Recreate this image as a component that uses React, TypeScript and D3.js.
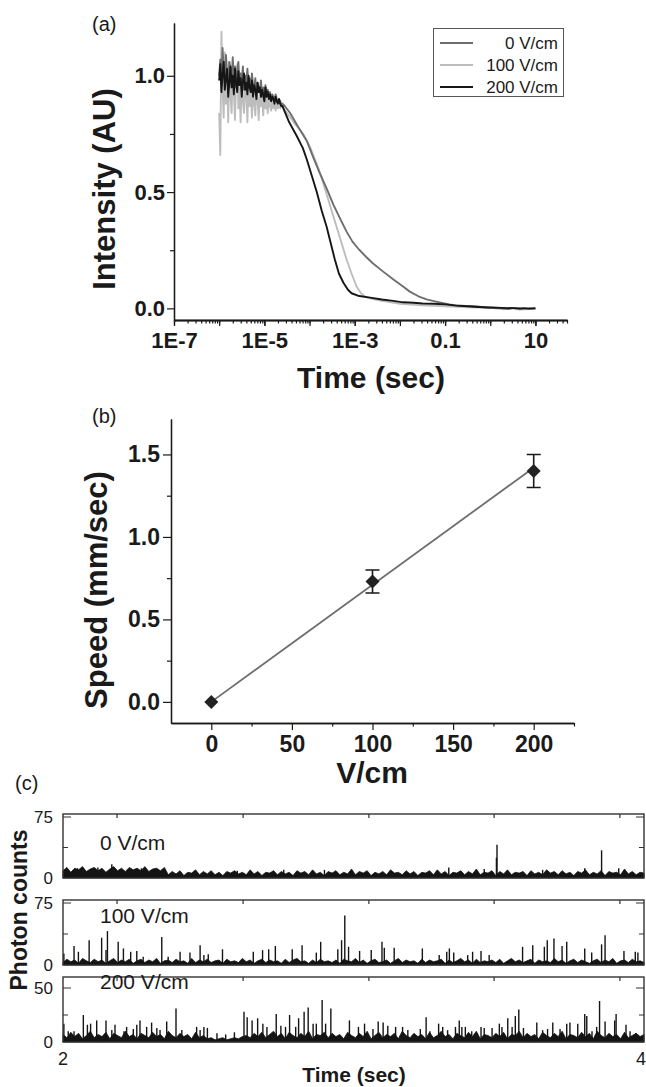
import React, { useRef, useEffect } from "react";
import * as d3 from "d3";

const FONT = "'Liberation Sans', Arial, Helvetica, sans-serif";

// ---------- (a) intensity decay ----------
// noisy start of the traces, log10(time) grid
const headLogTime = [-6.000, -5.975, -5.950, -5.925, -5.900, -5.875, -5.850, -5.825, -5.800, -5.775, -5.750, -5.725, -5.700, -5.675, -5.650, -5.625, -5.600, -5.575, -5.550, -5.525, -5.500, -5.475, -5.450, -5.425, -5.400, -5.375, -5.350, -5.325, -5.300, -5.275, -5.250, -5.225, -5.200, -5.175, -5.150, -5.125, -5.100, -5.075, -5.050, -5.025, -5.000, -4.975, -4.950, -4.925, -4.900, -4.875, -4.850, -4.825, -4.800, -4.775, -4.750, -4.725, -4.700, -4.675, -4.650, -4.625, -4.600];
const head0V = [1.00, 1.07, 0.96, 1.12, 1.02, 0.97, 1.09, 1.01, 0.95, 1.06, 1.03, 0.97, 1.08, 0.99, 1.04, 0.95, 1.02, 1.06, 0.96, 1.01, 0.98, 1.04, 0.94, 1.00, 0.97, 1.03, 0.95, 0.99, 0.93, 1.01, 0.96, 0.94, 0.99, 0.92, 0.97, 0.95, 0.93, 0.98, 0.91, 0.95, 0.93, 0.96, 0.91, 0.94, 0.92, 0.93, 0.90, 0.92, 0.91, 0.89, 0.92, 0.90, 0.89, 0.90, 0.89, 0.88, 0.88];
const head100V = [0.84, 0.66, 1.19, 0.95, 0.82, 1.10, 0.88, 1.02, 0.80, 1.06, 0.91, 0.84, 1.04, 0.93, 0.81, 0.99, 1.05, 0.86, 0.95, 0.80, 1.01, 0.89, 0.84, 0.97, 0.92, 0.80, 0.99, 0.87, 0.94, 0.82, 0.96, 0.88, 0.83, 0.95, 0.90, 0.81, 0.93, 0.87, 0.91, 0.83, 0.94, 0.86, 0.90, 0.84, 0.92, 0.87, 0.85, 0.90, 0.86, 0.88, 0.85, 0.89, 0.86, 0.88, 0.86, 0.87, 0.87];
const head200V = [0.98, 1.05, 0.93, 1.01, 1.06, 0.94, 0.99, 1.03, 0.91, 0.97, 1.04, 0.95, 1.00, 0.92, 1.03, 0.97, 0.93, 1.02, 0.96, 0.99, 0.91, 0.98, 1.01, 0.94, 0.97, 0.92, 1.00, 0.95, 0.93, 0.98, 0.91, 0.96, 0.94, 0.90, 0.97, 0.93, 0.95, 0.91, 0.94, 0.92, 0.89, 0.95, 0.91, 0.93, 0.90, 0.92, 0.89, 0.91, 0.90, 0.88, 0.91, 0.89, 0.88, 0.90, 0.88, 0.87, 0.87];
// decay part: [log10(time), intensity]
const tail0V = [[-4.55, 0.87], [-4.43, 0.84], [-4.25, 0.78], [-4.06, 0.72], [-3.92, 0.65], [-3.77, 0.58], [-3.62, 0.515], [-3.47, 0.445], [-3.32, 0.385], [-3.18, 0.33], [-3.05, 0.287], [-2.9, 0.252], [-2.75, 0.222], [-2.6, 0.194], [-2.37, 0.158], [-2.15, 0.125], [-1.93, 0.094], [-1.78, 0.072], [-1.59, 0.052], [-1.41, 0.039], [-1.22, 0.03], [-1.04, 0.022], [-0.9, 0.017], [-0.8, 0.014], [-0.55, 0.01], [-0.3, 0.008], [-0.1, 0.004], [0.2, 0.002], [0.4, -0.003], [0.5, 0.002], [0.65, -0.004], [0.75, 0.001], [0.85, -0.003], [1.0, 0.0]];
const tail100V = [[-4.54, 0.85], [-4.35, 0.80], [-4.14, 0.75], [-3.98, 0.69], [-3.84, 0.62], [-3.73, 0.56], [-3.62, 0.49], [-3.51, 0.42], [-3.40, 0.35], [-3.29, 0.28], [-3.18, 0.21], [-3.07, 0.15], [-2.96, 0.094], [-2.86, 0.065], [-2.77, 0.05], [-2.6, 0.04], [-2.4, 0.033], [-2.2, 0.026], [-2.0, 0.02], [-1.75, 0.016], [-1.5, 0.013], [-1.25, 0.011], [-1.0, 0.009], [-0.75, 0.007], [-0.5, 0.005], [-0.25, 0.003], [0, 0.002], [0.3, -0.004], [0.5, 0.0], [0.7, -0.005], [1.0, 0.0]];
const tail200V = [[-4.45, 0.80], [-4.28, 0.74], [-4.15, 0.69], [-4.06, 0.64], [-3.95, 0.57], [-3.84, 0.50], [-3.73, 0.42], [-3.62, 0.35], [-3.53, 0.28], [-3.44, 0.21], [-3.35, 0.15], [-3.25, 0.11], [-3.15, 0.08], [-3.07, 0.065], [-2.9, 0.053], [-2.66, 0.046], [-2.4, 0.038], [-2.15, 0.032], [-1.93, 0.026], [-1.7, 0.024], [-1.5, 0.021], [-1.25, 0.02], [-1.0, 0.017], [-0.75, 0.012], [-0.5, 0.009], [-0.25, 0.006], [0, 0.004], [0.25, 0.002], [0.5, 0.001], [0.75, 0.0], [1.0, 0.0]];
const seriesLabels = ["0 V/cm", "100 V/cm", "200 V/cm"];
const seriesColors = ["#6e6e6e", "#bdbdbd", "#161616"];
const timeTickValues = [1e-7, 1e-5, 1e-3, 0.1, 10];
const timeTickLabels = ["1E-7", "1E-5", "1E-3", "0.1", "10"];
const intensityTicks = [0, 0.5, 1.0];
const intensityMinor = [0.25, 0.75];

// ---------- (b) speed vs field ----------
const fieldValues = [0, 100, 200];
const speedValues = [0.0, 0.73, 1.40];
const speedErrors = [0.0, 0.07, 0.10];
const fitField = [0, 200];
const fitSpeed = [0.0, 1.42];
const fieldTicks = [0, 50, 100, 150, 200];
const fieldMinor = [25, 75, 125, 175, 225];
const speedTicks = [0, 0.5, 1.0, 1.5];
const speedMinor = [0.25, 0.75, 1.25];

// ---------- (c) photon count traces ----------
// background counts, evenly spread over 2..4 sec
const floor0V = [9, 13, 7, 12, 10, 14, 8, 11, 13, 9, 12, 7, 11, 14, 9, 12, 8, 13, 10, 12, 9, 14, 8, 11, 12, 9, 13,
  4, 8, 5, 9, 3, 7, 6, 10, 4, 8, 5, 9, 4, 7, 3, 8, 6, 9, 5, 7, 4, 10, 5, 8, 3, 7, 6, 9, 4, 8,
  5, 7, 3, 9, 6, 8, 4, 10, 5, 7, 3, 8, 6, 9, 4, 7, 5, 11, 4, 8, 6, 9, 3, 7, 5, 8, 4, 10, 6, 7,
  4, 9, 5, 8, 3, 7, 6, 9, 4, 10, 5, 8, 3, 7, 6, 9, 4, 8, 5, 11, 4, 7, 6, 9, 3, 8, 5, 10, 4, 7,
  6, 8, 3, 9, 5, 7, 4, 10, 6, 8, 4, 9, 5, 7, 3, 8, 6, 10, 4, 7, 5, 9, 3, 8, 6, 7, 4, 11, 5, 8, 4, 7, 6];
const floor100V = [3, 7, 4, 6, 2, 8, 5, 3, 7, 4, 6, 2, 5, 8, 3, 6, 4, 7, 2, 5, 7, 3, 6, 4, 8, 2, 5, 6, 3, 7,
  4, 5, 2, 8, 3, 6, 4, 7, 3, 5, 6, 2, 7, 4, 5, 3, 8, 4, 6, 2, 5, 7, 3, 6, 4, 5, 2, 7, 3, 6,
  8, 4, 5, 2, 6, 3, 7, 4, 5, 3, 6, 2, 7, 5, 4, 8, 3, 6, 2, 5, 7, 3, 4, 6, 2, 5, 8, 3, 6, 4,
  5, 2, 7, 3, 6, 4, 5, 7, 2, 6, 3, 5, 8, 4, 6, 2, 7, 3, 5, 4, 6, 3, 7, 2, 5, 8, 4, 6, 3, 5,
  7, 2, 6, 4, 5, 3, 8, 4, 6, 2, 5, 7, 3, 6, 4, 2, 5, 7, 3, 6, 4, 8, 2, 5, 6, 3, 7, 4, 5, 3];
const floor200V = [7, 4, 9, 5, 8, 3, 6, 10, 4, 7, 5, 9, 3, 8, 6, 4, 10, 5, 7, 3, 8, 6, 4, 9, 5, 7, 3, 10, 6, 4,
  8, 5, 7, 3, 9, 4, 6, 3, 4, 2, 3, 4, 2, 3, 4, 3, 5, 6, 4, 8, 5, 9, 4, 7, 10, 5, 8, 3, 9, 6,
  4, 8, 5, 10, 3, 7, 6, 9, 4, 8, 5, 7, 3, 9, 6, 4, 8, 5, 10, 3, 6, 9, 4, 7, 5, 8, 3, 10, 6, 4,
  8, 5, 7, 3, 9, 4, 6, 10, 5, 7, 3, 8, 6, 4, 9, 5, 10, 3, 7, 6, 4, 8, 5, 9, 3, 7, 6, 10, 4, 8,
  5, 7, 3, 9, 6, 4, 8, 5, 10, 3, 7, 6, 4, 9, 5, 8, 3, 10, 6, 4, 8, 5, 7, 3, 9, 4, 6, 8, 5, 7];
// bursts: [time (sec), counts]
const spikes0V = [[2.05, 12], [2.12, 13], [2.168, 17], [2.27, 12], [2.6, 9], [2.76, 10], [2.9, 10], [3.328, 13], [3.45, 11], [3.492, 25], [3.494, 41], [3.651, 10], [3.796, 12], [3.854, 34], [3.913, 12]];
const spikes100V = [[2.003, 14], [2.038, 23], [2.053, 16], [2.090, 30], [2.133, 33], [2.148, 18], [2.153, 41], [2.190, 28], [2.208, 20], [2.233, 16], [2.254, 17], [2.276, 10], [2.340, 34], [2.362, 10], [2.403, 16], [2.437, 15], [2.472, 24], [2.485, 12], [2.500, 13], [2.549, 19], [2.655, 16], [2.687, 18], [2.708, 19], [2.731, 23], [2.789, 19], [2.823, 24], [2.872, 15], [2.887, 28], [2.946, 19], [2.959, 30], [2.970, 60], [2.983, 22], [3.021, 17], [3.061, 18], [3.098, 28], [3.106, 21], [3.140, 21], [3.237, 20], [3.295, 12], [3.321, 16], [3.330, 20], [3.345, 15], [3.393, 12], [3.410, 16], [3.439, 17], [3.467, 12], [3.582, 22], [3.617, 24], [3.657, 22], [3.667, 30], [3.690, 32], [3.718, 23], [3.734, 28], [3.796, 20], [3.820, 15], [3.854, 25], [3.866, 36], [3.931, 17], [3.970, 16], [3.979, 15]];
const spikes200V = [[2.003, 17], [2.018, 10], [2.038, 10], [2.070, 25], [2.084, 16], [2.095, 17], [2.116, 20], [2.148, 20], [2.168, 11], [2.179, 16], [2.210, 10], [2.219, 14], [2.242, 12], [2.254, 16], [2.265, 20], [2.288, 14], [2.305, 18], [2.323, 13], [2.334, 11], [2.357, 19], [2.389, 31], [2.409, 11], [2.460, 14], [2.472, 11], [2.485, 14], [2.497, 13], [2.53, 8], [2.56, 7], [2.59, 9], [2.623, 28], [2.634, 23], [2.651, 20], [2.670, 22], [2.688, 17], [2.702, 14], [2.734, 26], [2.750, 15], [2.766, 14], [2.780, 25], [2.801, 14], [2.811, 22], [2.830, 28], [2.844, 32], [2.861, 17], [2.872, 17], [2.892, 39], [2.904, 17], [2.922, 31], [2.986, 20], [3.017, 14], [3.038, 17], [3.067, 12], [3.085, 19], [3.102, 18], [3.118, 15], [3.145, 14], [3.169, 14], [3.187, 11], [3.230, 12], [3.250, 23], [3.263, 10], [3.293, 17], [3.307, 14], [3.324, 11], [3.351, 14], [3.364, 20], [3.373, 14], [3.385, 14], [3.407, 10], [3.439, 14], [3.450, 13], [3.477, 13], [3.502, 17], [3.511, 14], [3.531, 22], [3.546, 14], [3.557, 24], [3.569, 30], [3.585, 13], [3.631, 18], [3.651, 11], [3.668, 12], [3.686, 18], [3.711, 12], [3.734, 17], [3.745, 18], [3.772, 17], [3.796, 26], [3.803, 24], [3.821, 10], [3.837, 14], [3.847, 38], [3.866, 19], [3.899, 20], [3.904, 26], [3.938, 16], [3.952, 10], [3.972, 8]];
const topTickTimes = [2.186, 2.62, 3.053, 3.484, 3.917];

function styleAxis(g, size, weight) {
  g.attr("font-family", FONT).attr("font-size", size).attr("font-weight", weight).attr("color", "#1a1a1a");
  g.selectAll("path.domain").attr("stroke-width", 1.3);
  g.selectAll(".tick line").attr("stroke-width", 1.2);
  g.selectAll(".tick text").attr("fill", "#1a1a1a");
}

const App = () => {
  const svgRef = useRef(null);

  useEffect(() => {
    const svg = d3.select(svgRef.current);
    svg.selectAll("*").remove();

    // ===== panel (a) =====
    const xA = d3.scaleLog().domain([1e-7, 50]).range([174, 567]);
    const yA = d3.scaleLinear().domain([-0.05, 1.227]).range([320, 23]);
    const gA = svg.append("g");

    const allLogTicks = xA.ticks();
    const decades = allLogTicks.filter(v => Math.abs(Math.log10(v) - Math.round(Math.log10(v))) < 1e-6);
    gA.append("g").attr("transform", "translate(0,320)")
      .call(d3.axisBottom(xA).tickValues(allLogTicks).tickSize(3.5).tickSizeOuter(0).tickFormat(() => ""))
      .call(g => styleAxis(g, 22, "bold"));
    gA.append("g").attr("transform", "translate(0,320)")
      .call(d3.axisBottom(xA).tickValues(decades).tickSize(6).tickSizeOuter(0).tickFormat(() => ""))
      .call(g => styleAxis(g, 22, "bold"));
    gA.append("g").attr("transform", "translate(0,320)")
      .call(d3.axisBottom(xA).tickValues(timeTickValues).tickSize(6).tickSizeOuter(0).tickPadding(6)
        .tickFormat((d, i) => timeTickLabels[i]))
      .call(g => styleAxis(g, 22, "bold"));

    gA.append("g").attr("transform", "translate(174,0)")
      .call(d3.axisLeft(yA).tickValues(intensityMinor).tickSize(4).tickSizeOuter(0).tickFormat(() => ""))
      .call(g => styleAxis(g, 22, "bold"));
    gA.append("g").attr("transform", "translate(174,0)")
      .call(d3.axisLeft(yA).tickValues(intensityTicks).tickSize(7).tickSizeOuter(0).tickPadding(2)
        .tickFormat(d3.format(".1f")))
      .call(g => styleAxis(g, 22, "bold"));

    const seriesA = [
      { head: head0V, tail: tail0V },
      { head: head100V, tail: tail100V },
      { head: head200V, tail: tail200V },
    ];
    const lineA = d3.line().x(d => xA(d[0])).y(d => yA(d[1]));
    [1, 0, 2].forEach(k => {
      const s = seriesA[k];
      const pts = headLogTime.map((lt, i) => [Math.pow(10, lt), s.head[i]])
        .concat(s.tail.map(([lt, v]) => [Math.pow(10, lt), v]));
      gA.append("path")
        .attr("d", lineA(pts))
        .attr("fill", "none")
        .attr("stroke", seriesColors[k])
        .attr("stroke-width", 1.9)
        .attr("stroke-linejoin", "round");
    });

    // legend
    const leg = gA.append("g");
    leg.append("rect").attr("x", 433.5).attr("y", 28.5).attr("width", 130).attr("height", 68)
      .attr("fill", "#fff").attr("stroke", "#555").attr("stroke-width", 1);
    seriesLabels.forEach((lab, i) => {
      const y = 43 + i * 22;
      leg.append("line").attr("x1", 440).attr("x2", 473).attr("y1", y).attr("y2", y)
        .attr("stroke", seriesColors[i]).attr("stroke-width", 1.8);
      leg.append("text").attr("x", 558).attr("y", y + 5.5).attr("text-anchor", "end")
        .attr("font-family", FONT).attr("font-size", 17).attr("fill", "#1a1a1a").text(lab);
    });

    gA.append("text").attr("x", 371).attr("y", 388).attr("text-anchor", "middle")
      .attr("font-family", FONT).attr("font-size", 30).attr("font-weight", "bold").attr("fill", "#1a1a1a")
      .text("Time (sec)");
    gA.append("text").attr("transform", "translate(115,189) rotate(-90)").attr("text-anchor", "middle")
      .attr("font-family", FONT).attr("font-size", 31).attr("font-weight", "bold").attr("fill", "#1a1a1a")
      .text("Intensity (AU)");
    gA.append("text").attr("x", 92).attr("y", 31).attr("font-family", FONT).attr("font-size", 20)
      .attr("fill", "#1a1a1a").text("(a)");

    // ===== panel (b) =====
    const xB = d3.scaleLinear().domain([-25, 225]).range([171, 574]);
    const yB = d3.scaleLinear().domain([-0.128, 1.715]).range([723, 419]);
    const gB = svg.append("g");

    gB.append("g").attr("transform", "translate(0,723)")
      .call(d3.axisBottom(xB).tickValues(fieldMinor).tickSize(3.5).tickSizeOuter(0).tickFormat(() => ""))
      .call(g => styleAxis(g, 23, "bold"));
    gB.append("g").attr("transform", "translate(0,723)")
      .call(d3.axisBottom(xB).tickValues(fieldTicks).tickSize(7).tickSizeOuter(0).tickPadding(6).tickFormat(d3.format("d")))
      .call(g => styleAxis(g, 23, "bold"));
    gB.append("g").attr("transform", "translate(171,0)")
      .call(d3.axisLeft(yB).tickValues(speedMinor).tickSize(4).tickSizeOuter(0).tickFormat(() => ""))
      .call(g => styleAxis(g, 23, "bold"));
    gB.append("g").attr("transform", "translate(171,0)")
      .call(d3.axisLeft(yB).tickValues(speedTicks).tickSize(8).tickSizeOuter(0).tickPadding(3).tickFormat(d3.format(".1f")))
      .call(g => styleAxis(g, 23, "bold"));

    gB.append("line")
      .attr("x1", xB(fitField[0])).attr("y1", yB(fitSpeed[0]))
      .attr("x2", xB(fitField[1])).attr("y2", yB(fitSpeed[1]))
      .attr("stroke", "#6e6e6e").attr("stroke-width", 1.8);

    fieldValues.forEach((f, i) => {
      const cx = xB(f);
      const cy = yB(speedValues[i]);
      if (speedErrors[i] > 0) {
        const yt = yB(speedValues[i] + speedErrors[i]);
        const yb = yB(speedValues[i] - speedErrors[i]);
        const p = d3.path();
        p.moveTo(cx, yt); p.lineTo(cx, yb);
        p.moveTo(cx - 7, yt); p.lineTo(cx + 7, yt);
        p.moveTo(cx - 7, yb); p.lineTo(cx + 7, yb);
        gB.append("path").attr("d", p.toString()).attr("stroke", "#1a1a1a").attr("stroke-width", 1.6).attr("fill", "none");
      }
      const r = 7;
      gB.append("path")
        .attr("d", `M${cx},${cy - r}L${cx + r},${cy}L${cx},${cy + r}L${cx - r},${cy}Z`)
        .attr("fill", "#222");
    });

    gB.append("text").attr("x", 372).attr("y", 783).attr("text-anchor", "middle")
      .attr("font-family", FONT).attr("font-size", 30).attr("font-weight", "bold").attr("fill", "#1a1a1a")
      .text("V/cm");
    gB.append("text").attr("transform", "translate(107,590) rotate(-90)").attr("text-anchor", "middle")
      .attr("font-family", FONT).attr("font-size", 31).attr("font-weight", "bold").attr("fill", "#1a1a1a")
      .text("Speed (mm/sec)");
    gB.append("text").attr("x", 92).attr("y", 423).attr("font-family", FONT).attr("font-size", 20)
      .attr("fill", "#1a1a1a").text("(b)");

    // ===== panel (c) =====
    const xC = d3.scaleLinear().domain([2, 4]).range([63, 644]);
    const gC = svg.append("g");
    const panels = [
      { label: seriesLabels[0], floor: floor0V, spikes: spikes0V, yMax: 78.7, top: 814, bottom: 878, major: 75, minor: 37.5, baseline: 850 },
      { label: seriesLabels[1], floor: floor100V, spikes: spikes100V, yMax: 78.6, top: 900, bottom: 965, major: 75, minor: 37.5, baseline: 923 },
      { label: seriesLabels[2], floor: floor200V, spikes: spikes200V, yMax: 60.2, top: 977, bottom: 1042, major: 50, minor: 25, baseline: 989 },
    ];

    panels.forEach(pn => {
      const y = d3.scaleLinear().domain([0, pn.yMax]).range([pn.bottom, pn.top]);
      const tFloor = d3.scaleLinear().domain([0, pn.floor.length - 1]).range([2, 4]);
      const area = d3.area().x((d, i) => xC(tFloor(i))).y0(y(0)).y1(d => y(d));
      gC.append("path").attr("d", area(pn.floor)).attr("fill", "#141414")
        .attr("stroke", "#141414").attr("stroke-width", 0.8).attr("stroke-linejoin", "miter");

      gC.append("g").selectAll("line").data(pn.spikes).enter().append("line")
        .attr("x1", d => xC(d[0])).attr("x2", d => xC(d[0]))
        .attr("y1", y(0)).attr("y2", d => y(d[1]))
        .attr("stroke", "#141414").attr("stroke-width", 1.4);

      const x0 = xC(2), x1 = xC(4);
      gC.append("rect").attr("x", x0).attr("y", pn.top).attr("width", x1 - x0).attr("height", pn.bottom - pn.top)
        .attr("fill", "none").attr("stroke", "#333").attr("stroke-width", 1.4);

      // inward ticks
      const tk = d3.path();
      [[pn.major, 8], [pn.minor, 5]].forEach(([v, len]) => {
        tk.moveTo(x0, y(v)); tk.lineTo(x0 + len, y(v));
        tk.moveTo(x1, y(v)); tk.lineTo(x1 - len, y(v));
      });
      topTickTimes.forEach(t => { tk.moveTo(xC(t), pn.top); tk.lineTo(xC(t), pn.top + 4); });
      gC.append("path").attr("d", tk.toString()).attr("stroke", "#333").attr("stroke-width", 1.2).attr("fill", "none");

      [0, pn.major].forEach(v => {
        gC.append("text").attr("x", 53).attr("y", y(v)).attr("dy", "0.36em").attr("text-anchor", "end")
          .attr("font-family", FONT).attr("font-size", 17).attr("fill", "#1a1a1a").text(v);
      });

      gC.append("text").attr("x", 100).attr("y", pn.baseline)
        .attr("font-family", FONT).attr("font-size", 21).attr("fill", "#1a1a1a").text(pn.label);
    });

    gC.append("text").attr("x", xC(2)).attr("y", 1065).attr("text-anchor", "middle")
      .attr("font-family", FONT).attr("font-size", 18).attr("fill", "#1a1a1a").text("2");
    gC.append("text").attr("x", xC(4) + 2).attr("y", 1065).attr("text-anchor", "end")
      .attr("font-family", FONT).attr("font-size", 18).attr("fill", "#1a1a1a").text("4");
    gC.append("text").attr("x", 354).attr("y", 1082).attr("text-anchor", "middle")
      .attr("font-family", FONT).attr("font-size", 21).attr("font-weight", "bold").attr("fill", "#1a1a1a")
      .text("Time (sec)");
    gC.append("text").attr("transform", "translate(27,910) rotate(-90)").attr("text-anchor", "middle")
      .attr("font-family", FONT).attr("font-size", 23).attr("font-weight", "bold").attr("fill", "#1a1a1a")
      .text("Photon counts");
    gC.append("text").attr("x", 15).attr("y", 790).attr("font-family", FONT).attr("font-size", 20)
      .attr("fill", "#1a1a1a").text("(c)");
  }, []);

  return (
    <svg
      ref={svgRef}
      width={646}
      height={1087}
      style={{ position: "absolute", left: 0, top: 0, background: "#fff" }}
    ></svg>
  );
};

export default App;
